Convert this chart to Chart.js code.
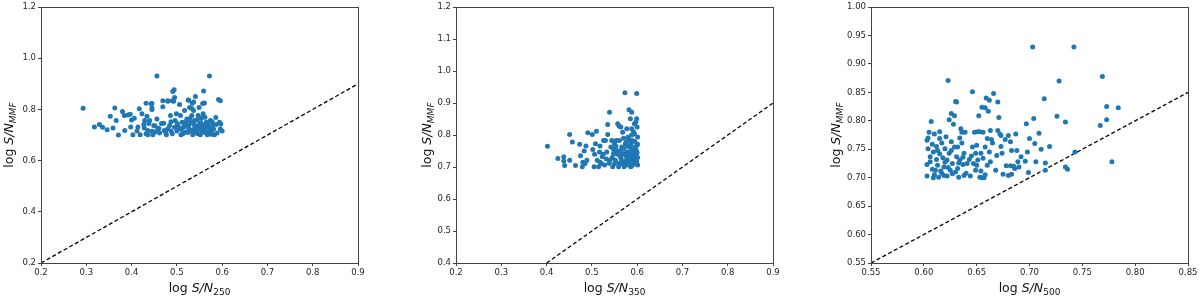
<!DOCTYPE html>
<html>
<head>
<meta charset="utf-8">
<script src="https://cdn.jsdelivr.net/npm/chart.js@4.4.1/dist/chart.umd.min.js"></script>
<style>
  html, body { margin: 0; padding: 0; background: #fff; }
  #wrap { position: relative; width: 1200px; height: 298px; }
  .panel { position: absolute; top: 0; width: 400px; height: 298px; }
</style>
</head>
<body>
<div id="wrap">
  <div class="panel" style="left:0px"><canvas id="c250"></canvas></div>
  <div class="panel" style="left:400px"><canvas id="c350"></canvas></div>
  <div class="panel" style="left:800px"><canvas id="c500"></canvas></div>
</div>
<script>
// --- data: [log S/N band, log S/N MMF] ---
const pts250 = [
  [0.293,0.805],[0.318,0.731],[0.329,0.741],[0.336,0.730],[0.346,0.721],[0.353,0.773],[0.359,0.728],
  [0.363,0.806],[0.366,0.757],[0.371,0.700],[0.380,0.792],[0.384,0.776],[0.385,0.718],[0.392,0.778],
  [0.397,0.781],[0.398,0.731],[0.400,0.759],[0.403,0.701],[0.406,0.766],[0.412,0.716],[0.414,0.731],
  [0.417,0.803],[0.419,0.701],[0.423,0.783],[0.427,0.741],[0.429,0.757],[0.432,0.824],[0.434,0.773],
  [0.436,0.718],[0.436,0.701],[0.440,0.757],[0.443,0.822],[0.445,0.800],[0.447,0.701],[0.449,0.737],
  [0.452,0.712],[0.456,0.931],[0.456,0.763],[0.460,0.727],[0.462,0.708],[0.469,0.834],[0.469,0.811],
  [0.471,0.746],[0.472,0.718],[0.477,0.701],[0.480,0.834],[0.484,0.737],[0.486,0.776],[0.487,0.716],
  [0.490,0.834],[0.491,0.870],[0.494,0.877],[0.495,0.847],[0.496,0.757],[0.499,0.783],[0.500,0.716],
  [0.503,0.733],[0.506,0.819],[0.508,0.776],[0.509,0.701],[0.512,0.750],[0.515,0.731],[0.517,0.796],
  [0.519,0.712],[0.522,0.763],[0.525,0.837],[0.527,0.741],[0.528,0.808],[0.530,0.718],[0.533,0.776],
  [0.534,0.824],[0.535,0.701],[0.537,0.796],[0.539,0.757],[0.541,0.851],[0.543,0.733],[0.544,0.712],
  [0.547,0.776],[0.549,0.808],[0.550,0.743],[0.552,0.701],[0.554,0.766],[0.556,0.723],[0.558,0.783],
  [0.559,0.872],[0.561,0.825],[0.563,0.712],[0.565,0.750],[0.567,0.701],[0.568,0.737],[0.571,0.731],
  [0.572,0.931],[0.574,0.757],[0.577,0.716],[0.580,0.741],[0.581,0.724],[0.583,0.701],[0.586,0.769],
  [0.587,0.741],[0.589,0.708],[0.592,0.839],[0.594,0.750],[0.596,0.834],[0.596,0.724],[0.597,0.743],
  [0.600,0.716],[0.445,0.823],[0.445,0.806],[0.480,0.832],[0.493,0.832],[0.526,0.836],[0.537,0.829],
  [0.557,0.823],[0.533,0.804],[0.501,0.745],[0.505,0.728],[0.510,0.722],[0.513,0.705],[0.518,0.738],
  [0.521,0.752],[0.524,0.710],[0.526,0.728],[0.529,0.765],[0.531,0.748],[0.534,0.720],[0.536,0.708],
  [0.538,0.742],[0.540,0.730],[0.542,0.715],[0.545,0.760],[0.546,0.705],[0.548,0.735],[0.551,0.725],
  [0.553,0.748],[0.555,0.710],[0.557,0.738],[0.560,0.720],[0.562,0.770],[0.564,0.730],[0.566,0.706],
  [0.569,0.745],[0.571,0.715],[0.573,0.728],[0.576,0.703],[0.578,0.752],[0.480,0.725],[0.475,0.712],
  [0.466,0.745],[0.458,0.720],[0.452,0.735],[0.445,0.715],[0.438,0.745],[0.432,0.705],[0.428,0.728],
  [0.490,0.705],[0.495,0.730],[0.487,0.752]
];
const pts350 = [
  [0.402,0.765],[0.425,0.727],[0.438,0.732],[0.438,0.719],[0.440,0.705],[0.451,0.721],[0.451,0.802],
  [0.457,0.778],[0.464,0.705],[0.473,0.771],[0.475,0.735],[0.479,0.701],[0.480,0.715],[0.483,0.750],
  [0.485,0.711],[0.487,0.766],[0.489,0.721],[0.491,0.807],[0.501,0.802],[0.502,0.755],[0.505,0.701],
  [0.506,0.740],[0.508,0.773],[0.510,0.812],[0.512,0.721],[0.515,0.701],[0.517,0.747],[0.518,0.766],
  [0.521,0.711],[0.523,0.732],[0.526,0.783],[0.528,0.706],[0.530,0.783],[0.533,0.747],[0.535,0.833],
  [0.535,0.802],[0.539,0.871],[0.540,0.721],[0.542,0.763],[0.544,0.783],[0.546,0.701],[0.548,0.742],
  [0.550,0.773],[0.552,0.721],[0.554,0.783],[0.555,0.752],[0.557,0.835],[0.559,0.701],[0.560,0.828],
  [0.561,0.783],[0.563,0.732],[0.564,0.825],[0.566,0.763],[0.566,0.711],[0.568,0.809],[0.570,0.742],
  [0.571,0.701],[0.573,0.932],[0.574,0.773],[0.576,0.721],[0.577,0.820],[0.579,0.747],[0.580,0.794],
  [0.582,0.879],[0.582,0.706],[0.583,0.732],[0.585,0.851],[0.585,0.763],[0.586,0.701],[0.588,0.871],
  [0.588,0.820],[0.589,0.783],[0.591,0.742],[0.592,0.721],[0.594,0.835],[0.594,0.804],[0.595,0.763],
  [0.596,0.711],[0.597,0.840],[0.598,0.752],[0.599,0.930],[0.599,0.851],[0.600,0.825],[0.601,0.794],
  [0.601,0.730],[0.601,0.706],[0.601,0.771],[0.560,0.712],[0.562,0.750],[0.565,0.725],[0.567,0.740],
  [0.569,0.715],[0.571,0.758],[0.573,0.705],[0.575,0.735],[0.577,0.745],[0.578,0.710],[0.580,0.765],
  [0.581,0.728],[0.583,0.748],[0.584,0.718],[0.586,0.772],[0.587,0.735],[0.589,0.705],[0.590,0.752],
  [0.591,0.725],[0.593,0.740],[0.594,0.712],[0.595,0.780],[0.596,0.730],[0.598,0.765],[0.599,0.718],
  [0.600,0.745],[0.582,0.785],[0.576,0.778],[0.570,0.790],[0.588,0.800],[0.592,0.810],[0.545,0.730],
  [0.550,0.710],[0.553,0.765],[0.538,0.712],[0.532,0.725],[0.525,0.740],[0.518,0.715],[0.556,0.740],
  [0.548,0.755]
];
const pts500 = [
  [0.603,0.766],[0.604,0.751],[0.603,0.723],[0.603,0.703],[0.604,0.770],[0.605,0.780],[0.606,0.737],
  [0.607,0.799],[0.608,0.759],[0.608,0.715],[0.609,0.700],[0.609,0.745],[0.610,0.777],[0.611,0.713],
  [0.612,0.755],[0.612,0.732],[0.613,0.722],[0.614,0.701],[0.615,0.769],[0.615,0.781],[0.615,0.742],
  [0.616,0.712],[0.617,0.761],[0.618,0.735],[0.619,0.719],[0.619,0.704],[0.620,0.751],[0.621,0.772],
  [0.622,0.731],[0.622,0.703],[0.623,0.871],[0.624,0.743],[0.624,0.802],[0.625,0.713],[0.626,0.813],
  [0.626,0.763],[0.627,0.725],[0.627,0.707],[0.628,0.794],[0.629,0.754],[0.629,0.809],[0.630,0.834],
  [0.631,0.737],[0.631,0.833],[0.632,0.716],[0.632,0.754],[0.633,0.701],[0.634,0.770],[0.634,0.731],
  [0.635,0.786],[0.636,0.780],[0.636,0.761],[0.637,0.723],[0.638,0.704],[0.638,0.743],[0.639,0.780],
  [0.641,0.725],[0.643,0.732],[0.644,0.703],[0.646,0.754],[0.646,0.851],[0.647,0.725],[0.648,0.780],
  [0.649,0.743],[0.649,0.713],[0.650,0.757],[0.651,0.781],[0.651,0.731],[0.652,0.809],[0.653,0.701],
  [0.653,0.781],[0.654,0.743],[0.655,0.824],[0.655,0.700],[0.656,0.734],[0.656,0.780],[0.657,0.700],
  [0.658,0.754],[0.658,0.823],[0.659,0.840],[0.660,0.722],[0.660,0.769],[0.661,0.817],[0.662,0.836],
  [0.662,0.745],[0.663,0.783],[0.664,0.767],[0.665,0.761],[0.666,0.848],[0.668,0.713],[0.669,0.739],
  [0.670,0.833],[0.670,0.783],[0.671,0.806],[0.672,0.777],[0.673,0.755],[0.673,0.774],[0.674,0.743],
  [0.675,0.706],[0.677,0.767],[0.678,0.721],[0.680,0.774],[0.680,0.704],[0.682,0.721],[0.682,0.763],
  [0.683,0.706],[0.683,0.748],[0.685,0.720],[0.686,0.716],[0.687,0.777],[0.688,0.748],[0.689,0.728],
  [0.690,0.719],[0.692,0.737],[0.696,0.729],[0.697,0.795],[0.698,0.745],[0.699,0.709],[0.700,0.769],
  [0.703,0.930],[0.704,0.804],[0.705,0.760],[0.706,0.728],[0.709,0.778],[0.711,0.750],[0.714,0.839],
  [0.715,0.726],[0.715,0.713],[0.719,0.755],[0.726,0.808],[0.728,0.870],[0.734,0.798],[0.734,0.719],
  [0.736,0.715],[0.742,0.930],[0.743,0.745],[0.767,0.792],[0.769,0.878],[0.773,0.825],[0.773,0.802],
  [0.778,0.728],[0.784,0.823],[0.606,0.728],[0.610,0.705],[0.613,0.748],[0.617,0.708],[0.620,0.727],
  [0.623,0.718],[0.626,0.748],[0.630,0.710],[0.633,0.726],[0.637,0.736],[0.640,0.708],[0.645,0.738],
  [0.650,0.722],[0.654,0.712],[0.658,0.705],[0.663,0.728]
];

// one-to-one reference lines (endpoints = axis corners)
const line250 = [[0.2,0.2],[0.9,0.9]];
const line350 = [[0.4,0.4],[0.9,0.9]];
const line500 = [[0.55,0.55],[0.85,0.85]];

// tick labels
const xTicks250 = ['0.2','0.3','0.4','0.5','0.6','0.7','0.8','0.9'];
const yTicks250 = ['0.2','0.4','0.6','0.8','1.0','1.2'];
const xTicks350 = ['0.2','0.3','0.4','0.5','0.6','0.7','0.8','0.9'];
const yTicks350 = ['0.4','0.5','0.6','0.7','0.8','0.9','1.0','1.1','1.2'];
const xTicks500 = ['0.55','0.60','0.65','0.70','0.75','0.80','0.85'];
const yTicks500 = ['0.55','0.60','0.65','0.70','0.75','0.80','0.85','0.90','0.95','1.00'];

const FONT = "'DejaVu Sans', sans-serif";
const INK = '#262626';

// draws "log S/N_sub" from mixed font runs; horizontal, centred on x
function drawRich(ctx, parts, cx, baseY) {
  let total = 0;
  parts.forEach((p) => { ctx.font = p.font; total += ctx.measureText(p.t).width; });
  let x = cx - total / 2;
  parts.forEach((p) => {
    ctx.font = p.font;
    ctx.fillText(p.t, x, baseY + (p.dy || 0));
    x += ctx.measureText(p.t).width;
  });
}

function titleParts(sub, subItalic) {
  return [
    { t: 'log ', font: `12.5px ${FONT}` },
    { t: 'S/N', font: `italic 12.5px ${FONT}` },
    { t: sub, font: `${subItalic ? 'italic ' : ''}9px ${FONT}`, dy: 3 }
  ];
}

const framePlugin = {
  id: 'frame',
  afterDraw(chart, args, opts) {
    const { ctx, chartArea: a } = chart;
    ctx.save();
    ctx.strokeStyle = '#444';
    ctx.lineWidth = 1;
    ctx.strokeRect(Math.round(a.left) + 0.5, Math.round(a.top) + 0.5,
      Math.round(a.right - a.left), Math.round(a.bottom - a.top));
    ctx.fillStyle = '#111';
    ctx.textBaseline = 'alphabetic';
    drawRich(ctx, titleParts(opts.band, false), (a.left + a.right) / 2, 292);
    ctx.translate(opts.yTitleX, (a.top + a.bottom) / 2);
    ctx.rotate(-Math.PI / 2);
    drawRich(ctx, titleParts('MMF', true), 0, 4);
    ctx.restore();
  }
};

function axis(labels, leftW, isX) {
  const vals = labels.map(Number);
  return {
    type: 'linear',
    min: vals[0],
    max: vals[vals.length - 1],
    afterBuildTicks: (s) => { s.ticks = vals.map((v) => ({ value: v })); },
    afterFit: (s) => { if (isX) s.height = 35; else s.width = leftW; },
    ticks: {
      autoSkip: false,
      maxRotation: 0,
      padding: 2,
      color: INK,
      font: { family: FONT, size: 8.5 },
      callback: (v) => labels[vals.findIndex((t) => Math.abs(t - v) < 1e-9)]
    },
    grid: { display: true, drawOnChartArea: false, drawTicks: true, tickLength: 3, color: '#444' },
    border: { display: true, color: '#444' }
  };
}

function makePanel(id, pts, line, xLabels, yLabels, band, leftW, rightPad, yTitleX) {
  new Chart(document.getElementById(id), {
    type: 'scatter',
    data: {
      datasets: [
        {
          data: pts.map(([x, y]) => ({ x, y })),
          backgroundColor: '#1f77b4',
          borderWidth: 0,
          pointRadius: 2.5,
          pointHoverRadius: 2.5
        },
        {
          data: line.map(([x, y]) => ({ x, y })),
          showLine: true,
          borderColor: '#000',
          borderWidth: 1.3,
          borderDash: [4, 2.5],
          pointRadius: 0,
          fill: false
        }
      ]
    },
    options: {
      responsive: true,
      maintainAspectRatio: false,
      animation: false,
      events: [],
      layout: { padding: { top: 6, right: rightPad, left: 0, bottom: 0 } },
      plugins: {
        legend: { display: false },
        tooltip: { enabled: false },
        frame: { band, yTitleX }
      },
      scales: {
        x: axis(xLabels, 0, true),
        y: axis(yLabels, leftW, false)
      }
    },
    plugins: [framePlugin]
  });
}

makePanel('c250', pts250, line250, xTicks250, yTicks250, '250', 41, 42, 9);
makePanel('c350', pts350, line350, xTicks350, yTicks350, '350', 56, 27, 27);
makePanel('c500', pts500, line500, xTicks500, yTicks500, '500', 71, 12, 36);
</script>
</body>
</html>
